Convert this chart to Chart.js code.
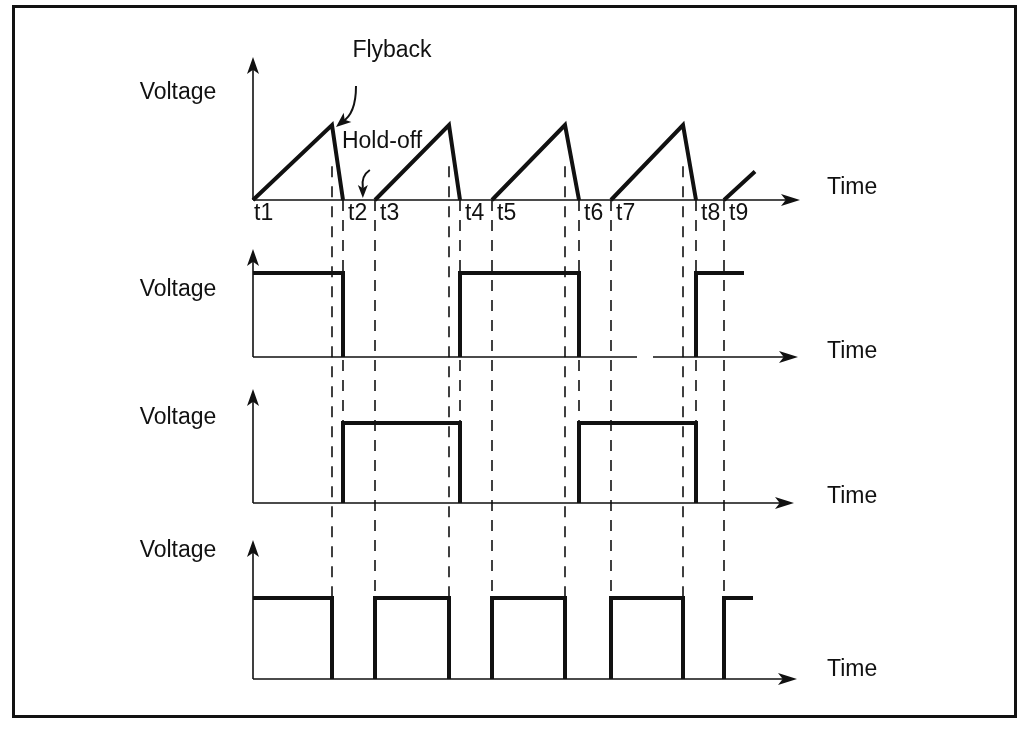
<!DOCTYPE html>
<html>
<head>
<meta charset="utf-8">
<title>Sweep and gate timing</title>
<script src="https://cdn.jsdelivr.net/npm/chart.js@4.4.1/dist/chart.umd.min.js"></script>
<style>
  html, body { margin: 0; padding: 0; background: #fff; }
  #wrap { position: relative; width: 1020px; height: 730px; }
</style>
</head>
<body>
<div id="wrap"><canvas id="timing"></canvas></div>
<script>
// Time instants in divisions, t1 = 0
const rampStart  = [0, 12.2, 23.9, 35.8, 47.1];
const peakTime   = [7.9, 19.6, 31.2, 43.0];
const flybackEnd = [9.0, 20.7, 32.6, 44.3];
const peakLevel  = [1, 1, 1, 1];
const tailTime   = 50.2;   // last ramp runs off here
const tailLevel  = 0.38;
const gateAEnd   = 49.1;
const gateCEnd   = 50.0;
const tickLabels = ['t1', 't2', 't3', 't4', 't5', 't6', 't7', 't8', 't9'];

// t1, t3, t5... are ramp starts, t2, t4... are flyback ends
const tickTimes = [];
rampStart.forEach(function(t, i) {
    tickTimes.push(t);
    if (i < flybackEnd.length) tickTimes.push(flybackEnd[i]);
});

const W = 1020, H = 730;
const X0 = 253, PX = 10;   // pixel of t1, pixels per division

// one trace per row; base = baseline pixel, unit = pixels for level 1
const panels = [
    { id: 'y1', base: 200, unit: 75, top: 57,  end: 800, gap: null,       timeY: 188, voltY: 93 },
    { id: 'y2', base: 357, unit: 84, top: 249, end: 798, gap: [637, 653], timeY: 352, voltY: 290 },
    { id: 'y3', base: 503, unit: 80, top: 389, end: 794, gap: null,       timeY: 497, voltY: 418 },
    { id: 'y4', base: 679, unit: 81, top: 540, end: 797, gap: null,       timeY: 670, voltY: 551 }
];

function gap(a, b) { return { x: (a + b) / 2, y: null }; }

// sawtooth sweep
const sweep = [];
for (let i = 0; i < peakTime.length; i++) {
    sweep.push({ x: rampStart[i], y: 0 }, { x: peakTime[i], y: peakLevel[i] }, { x: flybackEnd[i], y: 0 });
    sweep.push(gap(flybackEnd[i], rampStart[i + 1]));
}
sweep.push({ x: rampStart[4], y: 0 }, { x: tailTime, y: tailLevel });

// flip-flop output, toggles at every flyback end
const gateA = [
    { x: 0, y: 1 }, { x: flybackEnd[0], y: 1 }, { x: flybackEnd[0], y: 0 },
    gap(flybackEnd[0], flybackEnd[1]),
    { x: flybackEnd[1], y: 0 }, { x: flybackEnd[1], y: 1 }, { x: flybackEnd[2], y: 1 }, { x: flybackEnd[2], y: 0 },
    gap(flybackEnd[2], flybackEnd[3]),
    { x: flybackEnd[3], y: 0 }, { x: flybackEnd[3], y: 1 }, { x: gateAEnd, y: 1 }
];
// complementary output
const gateB = [
    { x: flybackEnd[0], y: 0 }, { x: flybackEnd[0], y: 1 }, { x: flybackEnd[1], y: 1 }, { x: flybackEnd[1], y: 0 },
    gap(flybackEnd[1], flybackEnd[2]),
    { x: flybackEnd[2], y: 0 }, { x: flybackEnd[2], y: 1 }, { x: flybackEnd[3], y: 1 }, { x: flybackEnd[3], y: 0 }
];
// high while the ramp is running
const gateC = [{ x: 0, y: 1 }, { x: peakTime[0], y: 1 }, { x: peakTime[0], y: 0 }];
for (let i = 1; i < peakTime.length; i++) {
    gateC.push(gap(peakTime[i - 1], rampStart[i]));
    gateC.push({ x: rampStart[i], y: 0 }, { x: rampStart[i], y: 1 }, { x: peakTime[i], y: 1 }, { x: peakTime[i], y: 0 });
}
gateC.push(gap(peakTime[3], rampStart[4]));
gateC.push({ x: rampStart[4], y: 0 }, { x: rampStart[4], y: 1 }, { x: gateCEnd, y: 1 });

const INK = '#111';
const FONT = '23px "Liberation Sans", Arial, sans-serif';

function arrowHead(ctx, x, y, angle, len, half) {
    ctx.save();
    ctx.translate(x, y);
    ctx.rotate(angle);
    ctx.beginPath();
    ctx.moveTo(0, 0);
    ctx.lineTo(-len, -half);
    ctx.lineTo(-len * 0.75, 0);
    ctx.lineTo(-len, half);
    ctx.closePath();
    ctx.fill();
    ctx.restore();
}

const decorations = {
    id: 'decorations',
    beforeDatasetsDraw(chart) {
        const ctx = chart.ctx;
        const xs = chart.scales.x;
        const ax = xs.getPixelForValue(0);
        ctx.save();
        ctx.strokeStyle = INK;
        ctx.fillStyle = INK;

        // frame
        ctx.lineWidth = 3;
        ctx.strokeRect(13.5, 6.5, 1002, 710);

        // axes with arrow heads
        ctx.lineWidth = 1.6;
        panels.forEach(function(p) {
            const ys = chart.scales[p.id];
            const by = ys.getPixelForValue(0);
            ctx.beginPath();
            ctx.moveTo(ax, by);
            ctx.lineTo(ax, p.top + 8);
            if (p.gap) {
                ctx.moveTo(ax, by);
                ctx.lineTo(p.gap[0], by);
                ctx.moveTo(p.gap[1], by);
            } else {
                ctx.moveTo(ax, by);
            }
            ctx.lineTo(p.end - 8, by);
            ctx.stroke();
            arrowHead(ctx, ax, p.top, -Math.PI / 2, 17, 6);
            arrowHead(ctx, p.end, by, 0, 19, 6);
        });

        // dashed projection lines
        const y1 = chart.scales.y1, y3 = chart.scales.y3, y4 = chart.scales.y4;
        ctx.lineWidth = 1.6;
        ctx.setLineDash([11, 9]);
        function vline(t, top, bottom) {
            const x = xs.getPixelForValue(t);
            ctx.beginPath();
            ctx.moveTo(x, top);
            ctx.lineTo(x, bottom);
            ctx.stroke();
        }
        peakTime.forEach(function(t) { vline(t, y1.getPixelForValue(0.45), y4.getPixelForValue(1)); });
        rampStart.slice(1).forEach(function(t) { vline(t, y1.getPixelForValue(0), y4.getPixelForValue(1)); });
        flybackEnd.forEach(function(t) { vline(t, y1.getPixelForValue(0), y3.getPixelForValue(0)); });
        ctx.restore();
    },
    afterDatasetsDraw(chart) {
        const ctx = chart.ctx;
        const xs = chart.scales.x;
        const y1 = chart.scales.y1;
        ctx.save();
        ctx.fillStyle = INK;
        ctx.strokeStyle = INK;
        ctx.font = FONT;
        ctx.textBaseline = 'middle';

        panels.forEach(function(p) {
            ctx.textAlign = 'center';
            ctx.fillText('Voltage', 178, p.voltY);
            ctx.textAlign = 'left';
            ctx.fillText('Time', 827, p.timeY);
        });

        // instants under the sweep
        ctx.textAlign = 'left';
        tickLabels.forEach(function(lbl, i) {
            const x = xs.getPixelForValue(tickTimes[i]) + (i === 0 ? 1 : 5);
            ctx.fillText(lbl, x, y1.getPixelForValue(0) + 14);
        });

        // Flyback callout
        ctx.textAlign = 'center';
        ctx.fillText('Flyback', 392, 51);
        const fx = xs.getPixelForValue(peakTime[0]) + 4;
        const fy = y1.getPixelForValue(peakLevel[0]) + 2;
        ctx.lineWidth = 2;
        ctx.beginPath();
        ctx.moveTo(fx + 20, 86);
        ctx.quadraticCurveTo(fx + 20, 114, fx + 6, fy - 5);
        ctx.stroke();
        arrowHead(ctx, fx, fy, Math.atan2(5, -6) , 15, 6);

        // Hold-off callout
        ctx.fillText('Hold-off', 382, 142);
        const hx = xs.getPixelForValue(flybackEnd[0] + 0.62 * (rampStart[1] - flybackEnd[0]));
        const hy = y1.getPixelForValue(0) - 2;
        ctx.beginPath();
        ctx.moveTo(hx + 7, 170);
        ctx.quadraticCurveTo(hx - 2, 176, hx, hy - 10);
        ctx.stroke();
        arrowHead(ctx, hx, hy, Math.PI / 2, 13, 5);
        ctx.restore();
    }
};

const yScales = {};
panels.forEach(function(p) {
    yScales[p.id] = { type: 'linear', display: false, min: -(H - p.base) / p.unit, max: p.base / p.unit };
});

function trace(data, axis) {
    return {
        data: data,
        yAxisID: axis,
        borderColor: INK,
        borderWidth: 4,
        borderJoinStyle: 'miter',
        borderCapStyle: 'butt',
        pointRadius: 0,
        tension: 0,
        spanGaps: false,
        fill: false
    };
}

document.addEventListener('DOMContentLoaded', function() {
    const ctx = document.getElementById('timing');
    new Chart(ctx, {
        type: 'line',
        data: {
            datasets: [
                trace(sweep, 'y1'),
                trace(gateA, 'y2'),
                trace(gateB, 'y3'),
                trace(gateC, 'y4')
            ]
        },
        options: {
            responsive: true,
            maintainAspectRatio: false,
            animation: false,
            layout: { padding: 0, autoPadding: false },
            plugins: { legend: { display: false }, tooltip: { enabled: false } },
            scales: Object.assign({
                x: { type: 'linear', display: false, min: -X0 / PX, max: (W - X0) / PX }
            }, yScales)
        },
        plugins: [decorations]
    });
});
</script>
</body>
</html>
